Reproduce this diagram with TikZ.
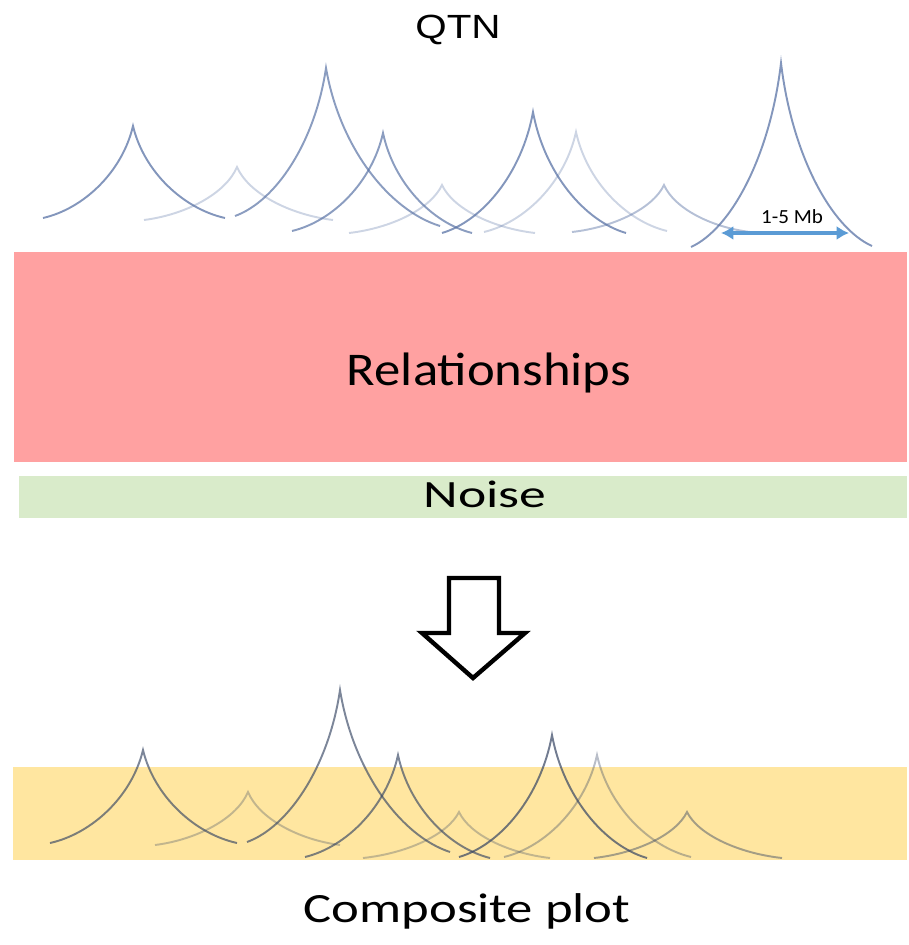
\documentclass[tikz,border=0pt]{standalone}
\usepackage{fontspec}
\setmainfont{Carlito}
\newfontfamily\arialfont{Liberation Sans}
\usepackage{xcolor}
\usetikzlibrary{arrows.meta}

\definecolor{relred}{RGB}{255,161,161}
\definecolor{noisegreen}{RGB}{217,235,202}
\definecolor{compyellow}{RGB}{255,230,160}
\definecolor{qtnblue}{RGB}{90,115,165}
\definecolor{mbblue}{RGB}{91,155,213}

\begin{document}
\begin{tikzpicture}[x=0.02cm, y=-0.02cm,
    peak/.style={qtnblue, line width=1.1pt},
    comppeak/.style={qtnblue!60!black, line width=1.1pt},
    mbarrow/.style={mbblue, line width=2pt, {Latex[length=7pt,width=8pt]}-{Latex[length=7pt,width=8pt]}}]

    % --- 1. PAGE & PANELS ---
    \useasboundingbox (0,0) rectangle (908,945);
    \fill[relred] (14,252) rectangle (907,462);
    \fill[noisegreen] (19,476) rectangle (907,518);
    \fill[compyellow] (13,767) rectangle (907,860);

    % --- 2. QTN PEAKS (apex / left foot / right foot / opacity) ---
    \foreach \xa/\ya/\xl/\yl/\xr/\yr/\op in {
        133/126/43/218/225/218/0.75,
        237/167/144/220/333/220/0.3,
        326/68/235/216/440/226/0.7,
        383/133/292/231/472/233/0.7,
        442/185/349/233/535/233/0.3,
        533/112/442/233/626/233/0.75,
        576/132/484/232/667/231/0.3,
        664/185/572/232/750/232/0.45,
        781/63/691/247/872/246/0.75}{
        \draw[peak, draw opacity=\op] (\xl,\yl)
            .. controls ({\xl+0.45*(\xa-\xl)},{\yl-0.1*(\yl-\ya)}) and ({\xl+0.88*(\xa-\xl)},{\yl-0.5*(\yl-\ya)}) .. (\xa,\ya)
            .. controls ({\xr-0.88*(\xr-\xa)},{\yr-0.5*(\yr-\ya)}) and ({\xr-0.45*(\xr-\xa)},{\yr-0.1*(\yr-\ya)}) .. (\xr,\yr);
    }

    % --- 3. WINDOW SIZE ---
    \coordinate (mbL) at (721,233);
    \coordinate (mbR) at (849,233);
    \draw[mbarrow] (mbL) -- (mbR);
    \node[anchor=base, font=\fontsize{12}{14}\selectfont, yscale=0.95, inner sep=1pt] (mb) at (792,224) {1-5 Mb};

    % --- 4. BLOCK ARROW ---
    \draw[line width=2.5pt, fill=white] (449,578) -- (499,578) -- (499,633) -- (525,633)
        -- (473,678) -- (422,633) -- (449,633) -- cycle;

    % --- 5. COMPOSITE PEAKS ---
    \foreach \xa/\ya/\xl/\yl/\xr/\yr/\op in {
        143/750/50/843/237/843/0.65,
        248/792/155/845/340/845/0.3,
        340/690/247/842/450/852/0.65,
        398/755/305/857/490/858/0.65,
        459/812/363/858/550/858/0.3,
        552/735/459/857/647/858/0.7,
        597/755/504/857/691/857/0.35,
        687/812/594/858/782/858/0.45}{
        \draw[comppeak, draw opacity=\op] (\xl,\yl)
            .. controls ({\xl+0.45*(\xa-\xl)},{\yl-0.1*(\yl-\ya)}) and ({\xl+0.88*(\xa-\xl)},{\yl-0.5*(\yl-\ya)}) .. (\xa,\ya)
            .. controls ({\xr-0.88*(\xr-\xa)},{\yr-0.5*(\yr-\ya)}) and ({\xr-0.45*(\xr-\xa)},{\yr-0.1*(\yr-\ya)}) .. (\xr,\yr);
    }

    % --- 6. LABELS ---
    \node[anchor=base, font=\arialfont\fontsize{23}{28}\selectfont, yscale=0.83] (qtn) at (458,39) {QTN};
    \node[anchor=base, font=\fontsize{30}{36}\selectfont, yscale=0.89] (rel) at (489,385) {Relationships};
    \node[anchor=base, font=\fontsize{30.5}{36}\selectfont, yscale=0.72] (noise) at (485,507) {Noise};
    \node[anchor=base, font=\fontsize{30}{36}\selectfont, yscale=0.79] (composite) at (467,922) {Composite plot};

\end{tikzpicture}
\end{document}
